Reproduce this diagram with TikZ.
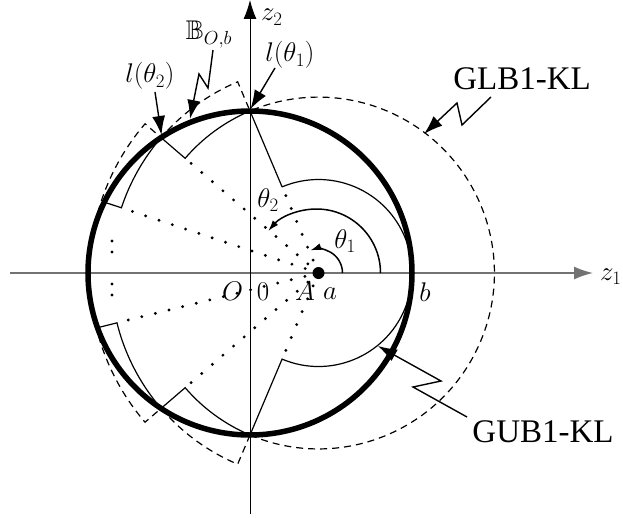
\RequirePackage{fix-cm}
\documentclass[tikz,border=0pt]{standalone}
\usepackage{amssymb}
\usepackage[no-math]{fontspec}
\setmainfont{Liberation Serif}
\usetikzlibrary{arrows.meta}
\tikzset{
  thickc/.style={line width=5.5pt},
  thinl/.style={line width=1.2pt},
  dashl/.style={line width=1.2pt, dash pattern=on 7pt off 5pt},
  dotl/.style={line width=3.2pt, line cap=round, dash pattern=on 0pt off 14pt},
  ellip/.style={line width=3.4pt, line cap=round, dash pattern=on 0pt off 11pt},
  lead/.style={line width=1.4pt, -{Latex[length=19pt,width=13pt]}},
  angarr/.style={line width=1.5pt, -{Latex[length=11pt,width=7pt]}},
  axisl/.style={line width=1pt, -{Latex[length=19pt,width=13pt]}},
  mlab/.style={inner sep=0pt, font=\fontsize{27}{32}\selectfont},
  tlab/.style={inner sep=0pt, font=\fontsize{33}{38}\selectfont},
}
\begin{document}
\begin{tikzpicture}[x=1pt,y=1pt]
\useasboundingbox (-250,-244) rectangle (373,273);
\coordinate (O) at (0,0);
\coordinate (a) at (68.5,0);
% axes
\coordinate (xs) at (-240,0);
\coordinate (xe) at (343,0);
\coordinate (ys) at (0,-241);
\coordinate (ye) at (0,273);
\draw[axisl, draw=black!55, line width=1.6pt] (xs) -- (xe);
\draw[axisl] (ys) -- (ye);
% staircases centred at a
\begin{scope}[shift={(a)}]
  \coordinate (U) at (112.92:93.5);
  \coordinate (C2) at (139.3:175.9);
  \coordinate (C3) at (161.7:207.6);
  \coordinate (C3l) at (-166.1:207.6);
  \coordinate (C2l) at (-139.3:175.9);
  \coordinate (Ul) at (-112.92:93.5);
  \coordinate (a0) at (0,0);
  % dashed (GLB)
  \draw[dashl] (-112.92:175.9) arc[start angle=-112.92,end angle=112.92,radius=175.9pt]
     -- (112.92:207.6) arc[start angle=112.92,end angle=139.3,radius=207.6pt]
     -- (139.3:228.8) arc[start angle=139.3,end angle=169.25,radius=228.8pt];
  \draw[dashl] (-112.92:175.9) -- (-112.92:207.6)
     arc[start angle=-112.92,end angle=-139.3,radius=207.6pt]
     -- (-139.3:228.8) arc[start angle=-139.3,end angle=-169.25,radius=228.8pt];
  % solid (GUB)
  \draw[thinl] (112.92:93.5) -- (112.92:175.9)
     arc[start angle=112.92,end angle=139.3,radius=175.9pt]
     -- (139.3:207.6) arc[start angle=139.3,end angle=161.7,radius=207.6pt]
     -- (161.7:225.6);
  \draw[thinl] (-166.1:227.7) -- (-166.1:207.6)
     arc[start angle=-166.1,end angle=-139.3,radius=207.6pt]
     -- (-139.3:175.9) arc[start angle=-139.3,end angle=-112.92,radius=175.9pt]
     -- (-112.92:93.5) arc[start angle=-112.92,end angle=112.92,radius=93.5pt];
  % dotted rays
  \draw[dotl] (a0) -- (U);
  \draw[dotl] (a0) -- (C2);
  \draw[dotl] (a0) -- (C3);
  \draw[dotl] (a0) -- (C3l);
  \draw[dotl] (a0) -- (C2l);
  \draw[dotl] (a0) -- (Ul);
  % angle arrows
  \coordinate (t1s) at (0:24);
  \coordinate (t2s) at (0:62);
  \draw[angarr] (t1s) arc[start angle=0,end angle=110,radius=24pt];
  \draw[angarr] (t2s) arc[start angle=0,end angle=139,radius=64pt];
\end{scope}
% vertical ellipsis
\coordinate (e1) at (-138,32);
\coordinate (e2) at (-138,10);
\coordinate (e3) at (-138,-11);
\coordinate (e4) at (-138,-33);
\draw[ellip] (e1) -- (e2);
\draw[ellip] (e3) -- (e4);
% thick circle
\draw[thickc] (O) circle[radius=162pt];
% point a
\fill (a) circle[radius=6pt];
% labels
\node[mlab, anchor=base west] (lz2) at (11,252) {$z_2$};
\node[mlab, anchor=base west] (lz1) at (350,-7) {$z_1$};
\node[mlab, anchor=base] (lO) at (-17.5,-27) {$O$};
\node[mlab, anchor=base] (l0) at (13,-27) {$0$};
\node[mlab, anchor=base] (lA) at (55,-27) {$A$};
\node[mlab, anchor=base] (la) at (80,-26) {$a$};
\node[mlab, anchor=base] (lb) at (175,-28) {$b$};
\node[mlab, anchor=base] (lth1) at (40,211) {$l(\theta_1)$};
\node[mlab, anchor=base] (lth2) at (-100,190) {$l(\theta_2)$};
\node[mlab, anchor=base] (lB) at (-41,233) {$\mathbb{B}_{O,b}$};
\node[mlab, anchor=base] (ang1) at (95,25) {$\theta_1$};
\node[mlab, anchor=base] (ang2) at (18,66) {$\theta_2$};
\node[tlab, anchor=base] (glb) at (272,183) {GLB1-KL};
\node[tlab, anchor=base] (gub) at (293,-169) {GUB1-KL};
% leaders
\coordinate (s1) at (25,205);
\coordinate (tT) at (0.5,164);
\coordinate (s2) at (-95,181);
\coordinate (tP) at (-88.5,138);
\coordinate (sB) at (-37,223);
\coordinate (bB1) at (-42,185);
\coordinate (bB2) at (-51,199);
\coordinate (tB) at (-60,154);
\coordinate (sG) at (241,176);
\coordinate (bG1) at (212,148);
\coordinate (bG2) at (207,170);
\coordinate (tG) at (174,139);
\coordinate (sU) at (217,-144);
\coordinate (bU1) at (163,-114);
\coordinate (bU2) at (191,-108);
\coordinate (tU) at (128,-73);
\draw[lead] (s1) -- (tT);
\draw[lead] (s2) -- (tP);
\draw[lead] (sB) -- (bB1) -- (bB2) -- (tB);
\draw[lead] (sG) -- (bG1) -- (bG2) -- (tG);
\draw[lead] (sU) -- (bU1) -- (bU2) -- (tU);
\end{tikzpicture}
\end{document}
